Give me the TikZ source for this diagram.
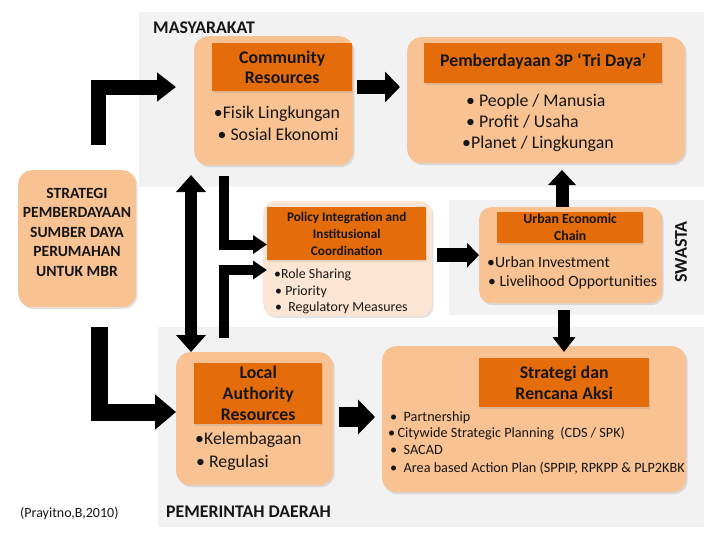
\documentclass[tikz,border=0pt]{standalone}
\usepackage{fontspec}
\setmainfont{Carlito}
\usetikzlibrary{arrows.meta,shadows}
\definecolor{panelgray}{HTML}{F2F2F2}
\definecolor{peach}{HTML}{F9C293}
\definecolor{hdrorange}{HTML}{E46C0A}
\definecolor{lightpeach}{HTML}{FCE6D3}
\definecolor{txt}{HTML}{161616}
\newcommand{\fsz}[2]{\fontsize{#1}{#2}\selectfont}
\begin{document}
\begin{tikzpicture}[x=1pt,y=-1pt,
  panelbg/.style={fill=panelgray,draw=none,inner sep=0pt,anchor=north west},
  box/.style={rounded corners=14pt,fill=peach,draw=none,inner sep=0pt,anchor=north west,
    drop shadow={opacity=0.22,shadow xshift=1.5pt,shadow yshift=-2pt}},
  hdr/.style={fill=hdrorange,draw=none,inner sep=0pt,anchor=north west,
    drop shadow={opacity=0.2,shadow xshift=1pt,shadow yshift=-1.5pt}},
  lbl/.style={inner sep=0pt,text=txt},
  ln/.style={inner sep=0pt,anchor=base west,text=txt},
  blk/.style={draw=black,line join=miter,line cap=butt},
]
\useasboundingbox (0,0) rectangle (728,546);

% panels
\node[panelbg,minimum width=565pt,minimum height=175pt] (masy) at (139,12) {};
\node[panelbg,minimum width=255pt,minimum height=115pt] (swasta) at (449,200) {};
\node[panelbg,minimum width=546pt,minimum height=200pt] (pemda) at (158,327) {};

\node[lbl,anchor=base west,font=\fsz{17.8}{20}\bfseries] (masyt) at (153,33) {MASYARAKAT};
\node[lbl,anchor=base west,font=\fsz{17.8}{20}\bfseries] (pemdat) at (166,517) {PEMERINTAH DAERAH};
\node[lbl,anchor=base west,font=\fsz{14}{17}] (src) at (20,517) {(Prayitno,B,2010)};
\node[lbl,rotate=90,font=\fsz{18}{20}\bfseries] (swt) at (681,252) {SWASTA};

% boxes
\node[box,minimum width=118pt,minimum height=137pt] (strat) at (18,170) {};
\node[box,minimum width=159pt,minimum height=129pt] (comm) at (194,36) {};
\node[box,minimum width=278pt,minimum height=126pt] (pemb) at (407,37) {};
\node[box,rounded corners=12pt,fill=lightpeach,minimum width=169pt,minimum height=115pt] (policy) at (263,201) {};
\node[box,rounded corners=12pt,minimum width=183pt,minimum height=96pt] (urban) at (479,207) {};
\node[box,minimum width=157pt,minimum height=133pt] (local) at (176,352) {};
\node[box,minimum width=304pt,minimum height=146pt] (renc) at (382,346) {};

% headers
\node[hdr,minimum width=140pt,minimum height=48pt] (commh) at (212,43) {};
\node[hdr,minimum width=238pt,minimum height=40pt] (pembh) at (424,43) {};
\node[hdr,minimum width=159pt,minimum height=53pt] (polh) at (267,207) {};
\node[hdr,minimum width=146pt,minimum height=31pt] (urbh) at (497,212) {};
\node[hdr,minimum width=128pt,minimum height=61pt] (loch) at (194,363) {};
\node[hdr,minimum width=170pt,minimum height=49pt] (rench) at (479,358) {};

% header texts
\node[lbl,align=center,font=\fsz{15.6}{19.5}\bfseries] (stratt) at (77,232) {STRATEGI\\PEMBERDAYAAN\\SUMBER DAYA\\PERUMAHAN\\UNTUK MBR};
\node[lbl,align=center,font=\fsz{17.8}{20}\bfseries] (commt) at (commh.center) {Community\\Resources};
\node[lbl,align=center,font=\fsz{17.8}{20}\bfseries] (pembt) at ([yshift=1.5pt]pembh.center) {Pemberdayaan 3P ‘Tri Daya’};
\node[lbl,align=center,font=\fsz{13.2}{17}\bfseries] (polt) at (polh.center) {Policy Integration and\\Institusional\\Coordination};
\node[lbl,align=center,font=\fsz{13.8}{17}\bfseries] (urbt) at (urbh.center) {Urban Economic\\Chain};
\node[lbl,align=center,font=\fsz{17.8}{21}\bfseries] (loct) at (loch.center) {Local\\Authority\\Resources};
\node[lbl,align=center,font=\fsz{17.8}{21}\bfseries] (renct) at (rench.center) {Strategi dan\\Rencana Aksi};

% body lines
\begin{scope}[every node/.append style={font=\fsz{17.8}{21}}]
\node[lbl,anchor=base] (c1) at (277,118) {•Fisik Lingkungan};
\node[lbl,anchor=base] (c2) at (278,140) {• Sosial Ekonomi};
\node[ln] (p1) at (466,106) {• People / Manusia};
\node[ln] (p2) at (466,127) {• Profit / Usaha};
\node[ln] (p3) at (462,148) {•Planet / Lingkungan};
\node[ln] (l1) at (195,444) {•Kelembagaan};
\node[ln] (l2) at (196,467) {• Regulasi};
\end{scope}
\begin{scope}[every node/.append style={font=\fsz{13.9}{17}}]
\node[ln] (q1) at (274,278) {•Role Sharing};
\node[ln] (q2) at (275,295) {• Priority};
\node[ln] (q3) at (275,311) {•\ \ Regulatory Measures};
\end{scope}
\begin{scope}[every node/.append style={font=\fsz{14.2}{17}}]
\node[ln] (r1) at (390,421) {•\ \ Partnership};
\node[ln] (r2) at (388,437) {•\,Citywide Strategic Planning\ \ (CDS / SPK)};
\node[ln] (r3) at (390,454) {•\ \ SACAD};
\node[ln] (r4) at (390,472) {•\ \ Area based Action Plan (SPPIP, RPKPP \& PLP2KBK};
\end{scope}
\begin{scope}[every node/.append style={font=\fsz{15.7}{19}}]
\node[ln] (u1) at (487,267) {•Urban Investment};
\node[ln] (u2) at (488,286) {• Livelihood Opportunities};
\end{scope}

% arrows
\coordinate (a1s) at (98.5,145);
\coordinate (a1e) at (176,87);
\draw[blk,line width=15pt,-{Triangle[length=19pt,width=28pt]}] (a1s) |- (a1e);
\coordinate (a2s) at (99,327);
\coordinate (a2e) at (176,412);
\draw[blk,line width=17pt,-{Triangle[length=21pt,width=34pt]}] (a2s) |- (a2e);
\coordinate (a3s) at (357,87);
\coordinate (a3e) at (400,87);
\draw[blk,line width=14pt,-{Triangle[length=15pt,width=30pt]}] (a3s) -- (a3e);
\coordinate (a4s) at (191,175);
\coordinate (a4e) at (191,352);
\draw[blk,line width=12pt,{Triangle[length=17pt,width=29pt]}-{Triangle[length=17pt,width=29pt]}] (a4s) -- (a4e);
\coordinate (a5s) at (223.5,176);
\coordinate (a5e) at (267,244.5);
\draw[blk,line width=10pt,-{Triangle[length=14pt,width=18pt]}] (a5s) |- (a5e);
\coordinate (a6s) at (223.5,338);
\coordinate (a6e) at (267,270);
\draw[blk,line width=10pt,-{Triangle[length=14pt,width=18pt]}] (a6s) |- (a6e);
\draw[blk,line width=14pt,-{Triangle[length=12pt,width=24pt]},shorten <=5pt] (policy.east |- urban.west) -- (urban.west);
\coordinate (a8s) at (562,207);
\coordinate (a8e) at (562,170);
\draw[blk,line width=13pt,-{Triangle[length=15pt,width=27pt]}] (a8s) -- (a8e);
\coordinate (a9s) at (564,310);
\coordinate (a9e) at (564,352);
\draw[blk,line width=12pt,-{Triangle[length=15pt,width=22pt]}] (a9s) -- (a9e);
\coordinate (a10s) at (339,417);
\coordinate (a10e) at (375,417);
\draw[blk,line width=20pt,-{Triangle[length=17pt,width=34pt]}] (a10s) -- (a10e);
\end{tikzpicture}
\end{document}
